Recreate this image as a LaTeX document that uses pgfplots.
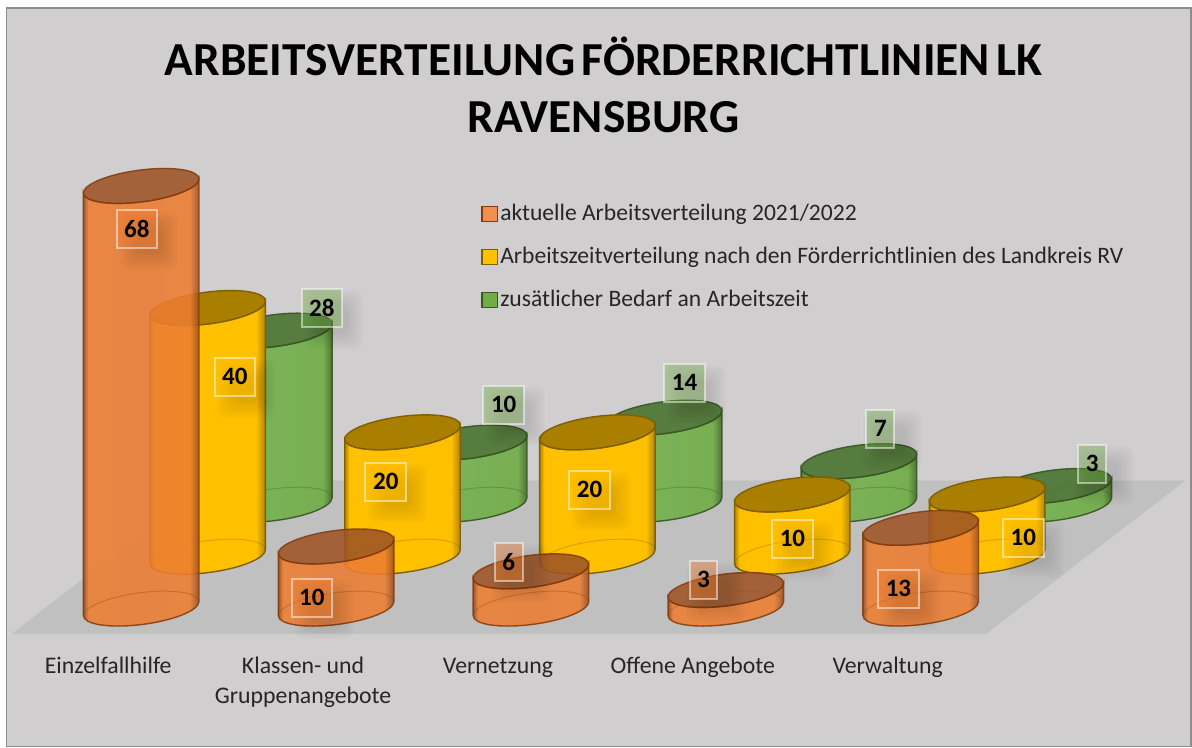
\documentclass[border=0pt]{standalone}
\usepackage{fontspec}
\setmainfont{Carlito}
\usepackage{pgfplots}
\pgfplotsset{compat=1.18}
\definecolor{bgc}{RGB}{208,206,206}
\definecolor{floorc}{RGB}{192,192,192}
\definecolor{bordc}{RGB}{140,140,140}
\definecolor{oC}{RGB}{237,125,49}
\definecolor{oL}{RGB}{236,124,50}
\definecolor{oD}{RGB}{150,78,30}
\definecolor{oT}{RGB}{158,84,38}
\definecolor{oE}{RGB}{132,60,12}
\definecolor{yC}{RGB}{255,192,0}
\definecolor{yD}{RGB}{176,132,0}
\definecolor{yT}{RGB}{170,127,0}
\definecolor{yE}{RGB}{127,96,0}
\definecolor{gC}{RGB}{112,173,71}
\definecolor{gL}{RGB}{116,176,78}
\definecolor{gD}{RGB}{70,110,45}
\definecolor{gT}{RGB}{76,118,52}
\definecolor{gE}{RGB}{56,87,35}
\definecolor{txt}{RGB}{38,38,38}
\newcommand\st{\rule{0pt}{10pt}}
\pgfdeclarehorizontalshading{shO}{100bp}{color(0bp)=(oD);color(25bp)=(oD);color(27bp)=(oC);color(50bp)=(oL);color(71bp)=(oC);color(75bp)=(oD);color(100bp)=(oD)}
\pgfdeclarehorizontalshading{shY}{100bp}{color(0bp)=(yD);color(25bp)=(yD);color(27bp)=(yC);color(50bp)=(yC);color(71bp)=(yC);color(75bp)=(yD);color(100bp)=(yD)}
\pgfdeclarehorizontalshading{shG}{100bp}{color(0bp)=(gD);color(25bp)=(gD);color(27bp)=(gC);color(50bp)=(gL);color(71bp)=(gC);color(75bp)=(gD);color(100bp)=(gD)}
% A sheared cylinder, drawn downward from its top-face centre; height comes from the data value \val
\newcommand\cylinder[4]{%
  \pgfmathsetlengthmacro\hh{\val*3.11pt}%
  \pgfsetfillopacity{#4}\pgfsetstrokeopacity{#4}%
  \pgfsetlinewidth{0.7pt}\pgfsetstrokecolor{#3}%
  \pgfpathmoveto{\pgfpoint{28.9pt}{3.5pt-\hh}}%
  \pgfpathcurveto{\pgfpoint{28.9pt}{-0.92pt-\hh}}{\pgfpoint{15.96pt}{-6.07pt-\hh}}{\pgfpoint{0pt}{-8pt-\hh}}%
  \pgfpathcurveto{\pgfpoint{-15.96pt}{-9.93pt-\hh}}{\pgfpoint{-28.9pt}{-7.92pt-\hh}}{\pgfpoint{-28.9pt}{-3.5pt-\hh}}%
  \pgfpathlineto{\pgfpoint{-28.9pt}{-3.5pt}}%
  \pgfpathcurveto{\pgfpoint{-28.9pt}{-7.92pt}}{\pgfpoint{-15.96pt}{-9.93pt}}{\pgfpoint{0pt}{-8pt}}%
  \pgfpathcurveto{\pgfpoint{15.96pt}{-6.07pt}}{\pgfpoint{28.9pt}{-0.92pt}}{\pgfpoint{28.9pt}{3.5pt}}%
  \pgfpathclose
  \pgfshadepath{#1}{0}\pgfusepath{stroke}%
  \begin{pgfscope}%
  \pgfsetstrokeopacity{0.3}\pgfsetlinewidth{0.5pt}%
  \pgfpathmoveto{\pgfpoint{-28.9pt}{-3.5pt-\hh}}%
  \pgfpathcurveto{\pgfpoint{-28.9pt}{0.92pt-\hh}}{\pgfpoint{-15.96pt}{6.07pt-\hh}}{\pgfpoint{0pt}{8pt-\hh}}%
  \pgfpathcurveto{\pgfpoint{15.96pt}{9.93pt-\hh}}{\pgfpoint{28.9pt}{7.92pt-\hh}}{\pgfpoint{28.9pt}{3.5pt-\hh}}%
  \pgfusepath{stroke}%
  \end{pgfscope}%
  \pgfsetfillcolor{#2}%
  \pgfpathellipse{\pgfpointorigin}{\pgfqpoint{28.9pt}{3.5pt}}{\pgfqpoint{0pt}{8pt}}%
  \pgfusepath{fill,stroke}%
}
\pgfdeclareplotmark{cylO}{\cylinder{shO}{oT}{oE}{0.88}}
\pgfdeclareplotmark{cylY}{\cylinder{shY}{yT}{yE}{1}}
\pgfdeclareplotmark{cylG}{\cylinder{shG}{gT}{gE}{0.92}}
\pgfplotsset{
  full/.style={width=596pt,height=374pt,scale only axis,clip=false,at={(0,0)},anchor=south west},
  pix/.style={full,hide axis,xmin=0,xmax=1192,ymin=0,ymax=748,y dir=reverse},
  cyl/.style={scatter,only marks,mark=#1,
    visualization depends on={y \as \val},
    scatter/use mapped color={draw=none,fill=none}},
  lab/.style={only marks,mark=none,forget plot,point meta=explicit symbolic,nodes near coords,
    nodes near coords align={center},
    every node near coord/.append style={anchor=center,font=\bfseries\fontsize{12.5}{15}\selectfont,
      text=black,fill=#1,fill opacity=0.4,text opacity=1,draw=white,draw opacity=0.5,line width=1pt,
      minimum height=19pt,inner xsep=3.8pt,inner ysep=0pt}},
  shad/.style={only marks,mark=none,forget plot,point meta=explicit symbolic,nodes near coords={},
    nodes near coords align={center},
    every node near coord/.append style={anchor=center,xshift=6pt,yshift=-6pt,
      fill=black,fill opacity=0.018,draw=none,rounded corners=4pt,minimum width=#1,minimum height=#1,inner sep=0pt}}
}
\pgfplotstableread{
cat v
0 68
1 10
2 6
3 3
4 13
}\orange
\pgfplotstableread{
cat v
0 40
1 20
2 20
3 10
4 10
}\yellow
\pgfplotstableread{
cat v
0 28
1 10
2 14
3 7
4 3
}\green
\pgfplotstableread{
x y t
137 229 68
312 598 10
509 562 6
704 580 3
899 589 13
}\labO
\pgfplotstableread{
x y t
235 377 40
386 482 20
590 490 20
793 539 10
1024 538 10
}\labY
\pgfplotstableread{
x y t
322 308 28
504 405 10
685 383 14
881 429 7
1093 464 3
}\labG
\begin{document}
\begin{tikzpicture}
\begin{axis}[pix]
  \addplot[fill=white,draw=none,forget plot] coordinates {(0,0)(1192,0)(1192,748)(0,748)} -- cycle;
  \addplot[fill=bgc,draw=bordc,line width=0.8pt,forget plot] coordinates {(6.5,8)(1192,8)(1192,747)(6.5,747)} -- cycle;
  \addplot[fill=floorc,draw=none,forget plot] coordinates {(12,634)(987,634)(1186,481)(211,481)} -- cycle;
\end{axis}
% green series: rear row
\begin{axis}[full,hide axis,xmin=-1.4077,xmax=4.7051,ymin=-39.068,ymax=81.19]
  \addplot[cyl=cylG] table[x=cat,y=v] {\green};
\end{axis}
% yellow series: middle row
\begin{axis}[full,hide axis,xmin=-1.0656,xmax=5.0472,ymin=-30.707,ymax=89.55]
  \addplot[cyl=cylY] table[x=cat,y=v] {\yellow};
\end{axis}
% orange series: front row, carries the category labels
\begin{axis}[full,xmin=-0.7246,xmax=5.3882,ymin=-22.347,ymax=97.91,
  axis line style={draw=none},tick style={draw=none},major tick length=0pt,ytick=\empty,
  xtick={0,1,2,3,4},
  xticklabels={\st Einzelfallhilfe,{\st Klassen- und\\Gruppenangebote},\st Vernetzung,\st Offene Angebote,\st Verwaltung},
  x tick label style={align=center,anchor=north,xshift=-16.5pt,yshift=50.6pt,text=txt,
    font=\fontsize{11.9}{15}\selectfont}]
  \addplot[cyl=cylO] table[x=cat,y=v] {\orange};
\end{axis}
% data labels, title, legend
\begin{axis}[pix,legend style={at={(axis cs:482,201)},anchor=north west,draw=none,fill=none,
    legend cell align=left,row sep=8.8pt,inner sep=0pt,font=\fontsize{11.8}{14}\selectfont,text=txt,
    nodes={inner sep=1.5pt}},
    legend image code/.code={\draw[#1] plot coordinates {(0.12cm,0cm)};}]
  \addplot[shad=29pt] table[x=x,y=y,meta=t] {\labO};
  \addplot[shad=29pt] table[x=x,y=y,meta=t] {\labY};
  \addplot[shad=29pt] table[x=x,y=y,meta=t] {\labG};
  \addplot[shad=26pt] table[x=x,y=y,meta=t] {\labO};
  \addplot[shad=26pt] table[x=x,y=y,meta=t] {\labY};
  \addplot[shad=26pt] table[x=x,y=y,meta=t] {\labG};
  \addplot[shad=23pt] table[x=x,y=y,meta=t] {\labO};
  \addplot[shad=23pt] table[x=x,y=y,meta=t] {\labY};
  \addplot[shad=23pt] table[x=x,y=y,meta=t] {\labG};
  \addplot[shad=20pt] table[x=x,y=y,meta=t] {\labO};
  \addplot[shad=20pt] table[x=x,y=y,meta=t] {\labY};
  \addplot[shad=20pt] table[x=x,y=y,meta=t] {\labG};
  \addplot[shad=17pt] table[x=x,y=y,meta=t] {\labO};
  \addplot[shad=17pt] table[x=x,y=y,meta=t] {\labY};
  \addplot[shad=17pt] table[x=x,y=y,meta=t] {\labG};
  \addplot[shad=14pt] table[x=x,y=y,meta=t] {\labO};
  \addplot[shad=14pt] table[x=x,y=y,meta=t] {\labY};
  \addplot[shad=14pt] table[x=x,y=y,meta=t] {\labG};
  \addplot[lab=oC] table[x=x,y=y,meta=t] {\labO};
  \addplot[lab=yC] table[x=x,y=y,meta=t] {\labY};
  \addplot[lab=gC] table[x=x,y=y,meta=t] {\labG};
  \addlegendimage{only marks,mark=square*,mark size=3.8pt,mark options={fill=oC!85!white,draw=oE,line width=0.7pt}}
  \addlegendentry{aktuelle Arbeitsverteilung 2021/2022}
  \addlegendimage{only marks,mark=square*,mark size=3.8pt,mark options={fill=yC,draw=yE,line width=0.7pt}}
  \addlegendentry{Arbeitszeitverteilung nach den Förderrichtlinien des Landkreis RV}
  \addlegendimage{only marks,mark=square*,mark size=3.8pt,mark options={fill=gC,draw=gE,line width=0.7pt}}
  \addlegendentry{zusätlicher Bedarf an Arbeitszeit}
  \node[align=center,font=\bfseries\fontsize{23.7}{28.5}\selectfont,text=black] at (axis cs:604,85)
    {ARBEITSVERTEILUNG\hspace{0.14em}FÖRDERRICHTLINIEN\hspace{0.14em}LK\\RAVENSBURG};
\end{axis}
\end{tikzpicture}
\end{document}
